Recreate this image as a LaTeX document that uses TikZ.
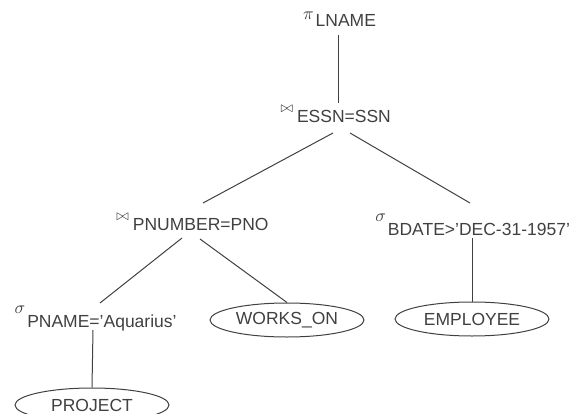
\documentclass[tikz,border=0pt]{standalone}
\usepackage{fontspec}
\setmainfont{Liberation Sans}
\usetikzlibrary{shapes.geometric}

% raised operator symbols in front of the condition text
\newcommand{\projsym}{\raisebox{7pt}{\scalebox{1.75}{\normalsize$\pi$}}\hspace{2pt}}
\newcommand{\joinsym}{\raisebox{10pt}{\scalebox{1.5}{\normalsize$\bowtie$}}\hspace{4pt}}
\newcommand{\selsym}{\raisebox{14pt}{\scalebox{1.75}{\normalsize$\sigma$}}\hspace{2pt}}

\begin{document}
\begin{tikzpicture}[x=1pt, y=-1pt, line width=1pt, color=black!75,
  every node/.style={font=\fontsize{17.5}{21}\selectfont, inner sep=0pt},
  op/.style={anchor=base},
  rel/.style={draw, ellipse, minimum width=154pt, minimum height=34pt}]
\useasboundingbox (0,0) rectangle (572,414);

\node[op] (proj) at (339.5,27) {\projsym LNAME}; % top
\node[op] (join1) at (335.7,123) {\joinsym ESSN=SSN};
\node[op] (join2) at (192.5,230) {\joinsym PNUMBER=PNO};
\node[op] (sel2) at (472.6,235) {\selsym BDATE>'DEC-31-1957'};
\node[op] (sel1) at (95.6,327) {\selsym PNAME='Aquarius'};

\node[rel] (worksOn) at (287,320) {WORKS\_ON};
\node[rel] (employee) at (472,319) {EMPLOYEE};
\node[rel] (project) at (92,405) {PROJECT}; % cut by the page edge

\draw ([shift={(-1.5,8)}]proj.base) -- ([shift={(2.3,-20)}]join1.base);
\draw ([shift={(-2.7,10)}]join1.base) -- ([shift={(10.5,-27)}]join2.base);
\draw ([shift={(14.3,10)}]join1.base) -- ([shift={(-2.6,-32)}]sel2.base);
\draw ([shift={(-10.5,8)}]join2.base) -- ([shift={(4.4,-24)}]sel1.base);
\draw ([shift={(7.5,9)}]join2.base) -- (worksOn.north);
\draw ([shift={(-0.6,3)}]sel2.base) -- (employee.north);
\draw ([shift={(-2.6,3)}]sel1.base) -- (project.north);
\end{tikzpicture}
\end{document}
